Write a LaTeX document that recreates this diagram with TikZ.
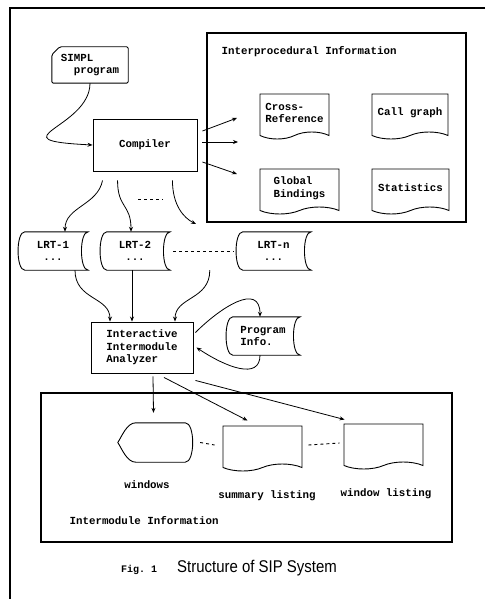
\documentclass[tikz,border=0pt]{standalone}
\usepackage{fontspec}
\setmonofont{Liberation Mono}
\newfontfamily\capfont[FakeStretch=0.88]{Liberation Sans}
\usetikzlibrary{arrows.meta,positioning,calc,shapes.symbols}

% outlines drawn round a named node
\newcommand{\storedoutline}[1]{%
  \draw[outline] ([xshift=7pt]#1.north west) -- (#1.north east)
    .. controls ([xshift=-9pt]#1.north east) and ([xshift=-9pt]#1.south east) .. (#1.south east)
    -- ([xshift=7pt]#1.south west)
    .. controls ([xshift=-2pt]#1.south west) and ([xshift=-2pt]#1.north west) .. cycle;}
\newcommand{\displayoutline}[1]{%
  \draw[outline] ([xshift=18pt]#1.north west) -- ([xshift=-8pt]#1.north east)
    .. controls ([xshift=2pt]#1.north east) and ([xshift=2pt]#1.south east) .. ([xshift=-8pt]#1.south east)
    -- ([xshift=18pt]#1.south west)
    .. controls ([xshift=9pt]#1.south west) and ([xshift=4pt,yshift=-6pt]#1.west) .. (#1.west)
    .. controls ([xshift=4pt,yshift=6pt]#1.west) and ([xshift=9pt]#1.north west) .. cycle;}
\newcommand{\cardoutline}[1]{%
  \draw[outline, rounded corners=1.5pt] ([xshift=8pt]#1.north west) -- (#1.north east)
    -- (#1.south east) -- (#1.south west) -- ([yshift=-8pt]#1.north west) -- cycle;}

\begin{document}
\begin{tikzpicture}[x=1pt, y=-1pt,
  font=\ttfamily\bfseries\fontsize{10.8}{12.5}\selectfont,
  outline/.style={line width=0.9pt},
  box/.style={draw, line width=0.9pt, align=left},
  frame/.style={draw, line width=1.2pt},
  doc/.style={tape, draw, line width=0.9pt, tape bend top=none, tape bend bottom=in and out,
    tape bend height=7pt, align=left, minimum width=76pt, minimum height=45pt},
  stored/.style={minimum width=70pt, minimum height=38pt, align=center},
  lbl/.style={inner sep=0pt},
  arr/.style={-{Stealth[length=5pt,width=4pt]}, line width=0.8pt},
  dots/.style={line width=0.9pt, dash pattern=on 3pt off 3pt}
]
\useasboundingbox (0,0) rectangle (485,599);
\draw[frame] (485,8) -- (10,8) -- (10,599);

% interprocedural part
\node[frame, minimum width=259pt, minimum height=189pt] (ipbox) at (336.5,127.5) {};
\node[lbl, below right=14pt and 15pt of ipbox.north west] (iptitle) {Interprocedural Information};
\node[doc, minimum width=69pt] (xref) at (294.5,113) {Cross-\\Reference};
\node[doc] (callg) at (410,113) {Call graph};
\node[doc, minimum width=79pt] (gbind) at (299.5,188) {Global\\Bindings};
\node[doc, minimum width=77pt] (stats) at (410.5,188) {Statistics};

% compiler stage
\node[minimum width=76pt, minimum height=36pt, align=left] (simpl) at (90,65) {SIMPL\\\phantom{xx}program};
\cardoutline{simpl}
\node[box, minimum width=104pt, minimum height=52pt] (compiler) at (145,145) {Compiler};
\coordinate (ipa) at (237,118);
\coordinate (ipb) at (238,142);
\coordinate (ipc) at (237,174);
\coordinate (lrtend) at (196,224);

\node[stored] (lrt1) at (53,251) {LRT-1\\...};
\node[stored] (lrt2) at (135,251) {LRT-2\\...};
\node[stored, minimum width=75pt] (lrtn) at (273.5,251) {LRT-n\\...};
\storedoutline{lrt1}
\storedoutline{lrt2}
\storedoutline{lrtn}

% analyzer stage
\node[box, minimum width=102pt, minimum height=51pt] (analyzer) at (142,347.5) {Interactive\\Intermodule\\Analyzer};
\node[stored, minimum width=74pt, align=left] (pinfo) at (263,336) {Program\\Info.};
\storedoutline{pinfo}

% intermodule part
\node[frame, minimum width=411pt, minimum height=149pt] (imbox) at (246.5,467.5) {};
\node[lbl, above right=18pt and 29pt of imbox.south west] (imtitle) {Intermodule Information};
\node[minimum width=75pt, minimum height=39pt] (win) at (155.5,442.5) {};
\displayoutline{win}
\node[doc, minimum width=79pt] (slist) at (262.5,445) {};
\node[doc, minimum width=79pt] (wlist) at (383.5,443) {};
\node[lbl] (winlbl) at (147,485) {windows};
\node[lbl] (slistlbl) at (267,496) {summary listing};
\node[lbl] (wlistlbl) at (386,494) {window listing};

\node (caption) at (229,568) {{\fontsize{10}{11}\selectfont Fig. 1}\hspace{20pt}{\capfont\mdseries\fontsize{17}{18}\selectfont Structure of SIP System}};

% connectors
\draw[arr] (simpl.south) .. controls +(0,45) and +(-100,-5) .. (compiler.west);
\draw[arr] ([xshift=5pt,yshift=14pt]compiler.east) -- (ipa);
\draw[arr] ([xshift=5pt,yshift=3pt]compiler.east) -- (ipb);
\draw[arr] ([xshift=5pt,yshift=-17pt]compiler.east) -- (ipc);
\draw[arr] ([xshift=10pt,yshift=-9pt]compiler.south west) .. controls +(-5,25) and +(0,-25) .. ([xshift=12pt]lrt1.north);
\draw[arr] ([xshift=25pt,yshift=-9pt]compiler.south west) .. controls +(0,28) and +(0,-28) .. ([xshift=-4pt]lrt2.north);
\draw[arr] ([xshift=-25pt,yshift=-9pt]compiler.south east) .. controls +(0,25) and +(-12,-6) .. (lrtend);
\draw[dots] (138,199) -- (163,199);
\draw[dots] ([xshift=3pt]lrt2.east) -- ([xshift=-2pt]lrtn.west);
\draw[arr] ([xshift=22pt]lrt1.south) .. controls +(0,30) and +(0,-25) .. ([xshift=-32pt]analyzer.north);
\draw[arr] ([xshift=-3pt]lrt2.south) -- ([xshift=-10pt]analyzer.north);
\draw[arr] ([xshift=-26pt]lrtn.south west) .. controls +(0,30) and +(0,-25) .. ([xshift=33pt]analyzer.north);
\draw[arr] ([xshift=2pt,yshift=15pt]analyzer.east) .. controls +(25,-25) and +(0,-35) .. ([xshift=-3pt]pinfo.north);
\draw[arr] ([xshift=-3pt]pinfo.south) .. controls +(0,25) and +(30,20) .. ([xshift=3pt]analyzer.east);
\draw[arr] ([xshift=11pt,yshift=-3pt]analyzer.south) -- ([xshift=-2pt,yshift=10pt]win.north);
\draw[arr] ([xshift=22pt,yshift=-4pt]analyzer.south) -- ([xshift=-15pt,yshift=5pt]slist.north);
\draw[arr] ([xshift=2pt,yshift=-7pt]analyzer.south east) -- ([xshift=1pt,yshift=4pt]wlist.north west);
\draw[dots] ([xshift=7pt]win.east) -- ([xshift=-8pt]slist.west);
\draw[dots] ([xshift=6pt]slist.east) -- ([xshift=-4pt]wlist.west);
\end{tikzpicture}
\end{document}
